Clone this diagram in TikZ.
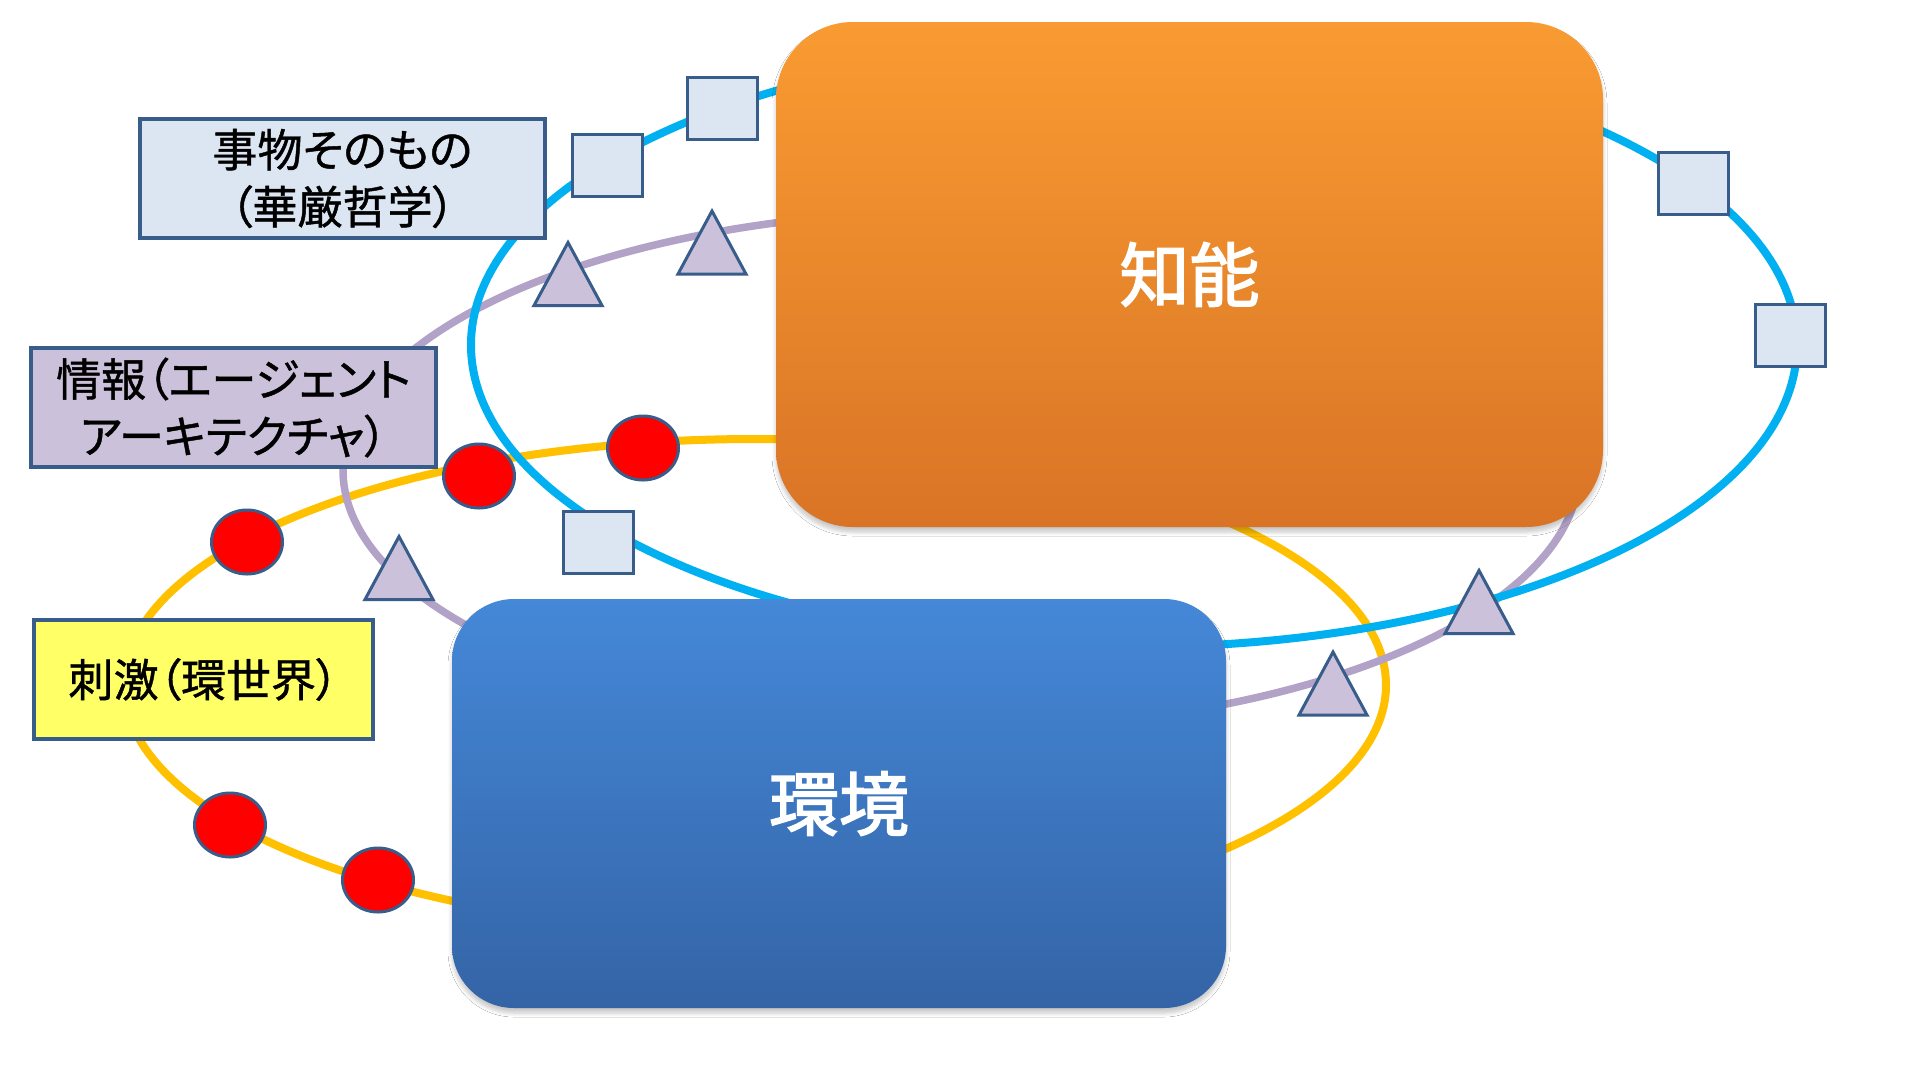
\documentclass[tikz,border=0pt]{standalone}
\usepackage{fontspec}
\setmainfont{Noto Sans CJK JP}[RawFeature={+palt;embolden=1}]
\newfontfamily\boxfont{Noto Sans CJK JP}[RawFeature={embolden=2.2}]
\usetikzlibrary{shapes.geometric,shadows.blur}
\definecolor{cyanln}{HTML}{00B0F0}
\definecolor{lavln}{HTML}{B3A2C7}
\definecolor{goldln}{HTML}{FFC000}
\definecolor{edgec}{HTML}{385D8A}
\definecolor{sqfill}{HTML}{DCE6F2}
\definecolor{trifill}{HTML}{CCC1DA}
\definecolor{yelfill}{HTML}{FFFF66}
\definecolor{orgtop}{HTML}{F99B32}
\definecolor{orgbot}{HTML}{D97426}
\definecolor{blutop}{HTML}{4588D8}
\definecolor{blubot}{HTML}{3464A6}
\begin{document}
\begin{tikzpicture}[x=1pt,y=-1pt,
  ring/.style={line width=8pt},
  mainbox/.style={inner sep=0pt, text=white, font=\boxfont\fontsize{70pt}{80pt}\selectfont,
    blur shadow={shadow xshift=0pt, shadow yshift=-5pt, shadow blur radius=4pt, shadow blur steps=6, shadow opacity=22}},
  labelbox/.style={draw=edgec, line width=3.5pt, minimum height=119pt, align=center, inner sep=0pt,
    font=\fontsize{45pt}{57pt}\selectfont},
  sqmark/.style={draw=edgec, line width=3pt, fill=sqfill, minimum width=70pt, minimum height=62pt, inner sep=0pt},
  dotmark/.style={draw=edgec, line width=3pt, fill=red, ellipse, minimum width=71pt, minimum height=64pt, inner sep=0pt},
  trimark/.pic={\draw[draw=edgec, line width=3pt, fill=trifill, line join=miter] (-34,31.5) -- (0,-31.5) -- (34,31.5) -- cycle;}
]
\useasboundingbox[fill=white] (0,0) rectangle (1920,1080);

% rings
\draw[ring, goldln] (755,685) ellipse [x radius=631pt, y radius=246pt];
\draw[ring, lavln, line width=7.5pt] (961,470) ellipse [x radius=618pt, y radius=259pt];
\draw[ring, cyanln] (1134,345) ellipse [x radius=663pt, y radius=302pt];

% main boxes
\node[mainbox, rounded corners=77pt, top color=orgtop, bottom color=orgbot,
      minimum width=827pt, minimum height=505pt] (chino) at (1189.5,274.5) {知能};
\node[mainbox, rounded corners=62pt, top color=blutop, bottom color=blubot,
      minimum width=774pt, minimum height=409pt] (kankyo) at (839,803.5) {環境};

% labels
\node[labelbox, fill=sqfill, minimum width=405pt] (jibutsu) at (342.5,178.5) {事物そのもの\\（華厳哲学）};
\node[labelbox, fill=trifill, minimum width=405pt] (joho) at (233.5,407.5) {情報（エージェント\\アーキテクチャ）};
\node[labelbox, fill=yelfill, minimum width=339pt] (shigeki) at (203.5,679.5) {刺激（環世界）};

% squares on the cyan ring
\node[sqmark] (s1) at (722,108) {};
\node[sqmark] (s2) at (607,165) {};
\node[sqmark] (s3) at (1693,183) {};
\node[sqmark] (s4) at (1790,335) {};
\node[sqmark] (s5) at (598,542) {};

% triangles on the lavender ring
\pic at (712,242.5) {trimark};
\pic at (568,274) {trimark};
\pic at (399,568) {trimark};
\pic at (1333,683.5) {trimark};
\pic at (1479,602) {trimark};

% dots on the gold ring
\node[dotmark] (d1) at (643,448) {};
\node[dotmark] (d2) at (479,476) {};
\node[dotmark] (d3) at (247,542) {};
\node[dotmark] (d4) at (230,825) {};
\node[dotmark] (d5) at (378,880) {};
\end{tikzpicture}
\end{document}
